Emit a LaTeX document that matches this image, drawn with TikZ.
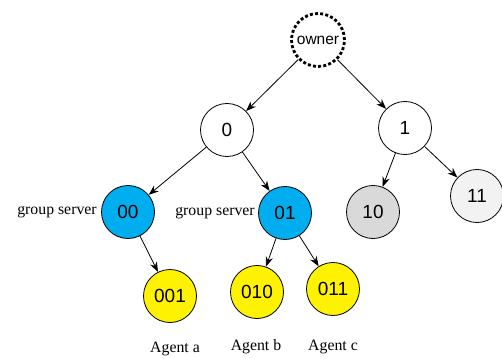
\documentclass[tikz,border=0pt]{standalone}
\usepackage{fontspec}
\setmainfont{Liberation Serif}
\newfontfamily\helv{Liberation Sans}
\usepackage{tikz}
\usetikzlibrary{arrows.meta,positioning}

\begin{document}
\begin{tikzpicture}[x=1pt, y=-1pt, ->, >={Stealth[length=10pt,width=7.5pt]}, line width=0.8pt,
    peer/.style={circle, draw, minimum size=53pt, inner sep=0pt, font=\helv\fontsize{19}{19}\selectfont},
    tag/.style={font=\fontsize{15.8}{15.8}\selectfont, inner sep=1pt}]
    \useasboundingbox (0,0) rectangle (502,358);
    % root and first level
    \node[peer, draw, line width=2.8pt, dash pattern=on 3pt off 2.2pt, font=\helv\fontsize{15.5}{15.5}\selectfont] (owner) at (318,40) {owner};
    \node[peer, fill=white] (n0) at (227,130) {0};
    \node[peer, fill=white] (n1) at (405,128) {1};
    % group servers
    \node[peer, fill={rgb,255:red,0;green,174;blue,239}] (n00) at (128,212) {00};
    \node[peer, fill={rgb,255:red,0;green,174;blue,239}] (n01) at (285,213) {01};
    \node[peer, fill={rgb,255:red,217;green,217;blue,217}] (n10) at (373,212) {10};
    \node[peer, fill={rgb,255:red,242;green,242;blue,242}] (n11) at (477,196) {11};
    % agents
    \node[peer, fill=yellow] (n001) at (170,296) {001};
    \node[peer, fill=yellow] (n010) at (257,292) {010};
    \node[peer, fill=yellow] (n011) at (333,289) {011};
    % labels
    \node[tag, left=3pt of n00] (gs0) {group server};
    \node[tag, left=2pt of n01] (gs1) {group server};
    \node[tag] (aga) at (175,349) {Agent a};
    \node[tag] (agb) at (256,347) {Agent b};
    \node[tag] (agc) at (333,347) {Agent c};
    \path (owner) edge (n0)
          (owner) edge (n1)
          (n0) edge (n00)
          (n0) edge (n01)
          (n00) edge (n001)
          (n01) edge (n010)
          (n01) edge (n011)
          (n1) edge (n10)
          (n1) edge (n11);
\end{tikzpicture}
\end{document}
